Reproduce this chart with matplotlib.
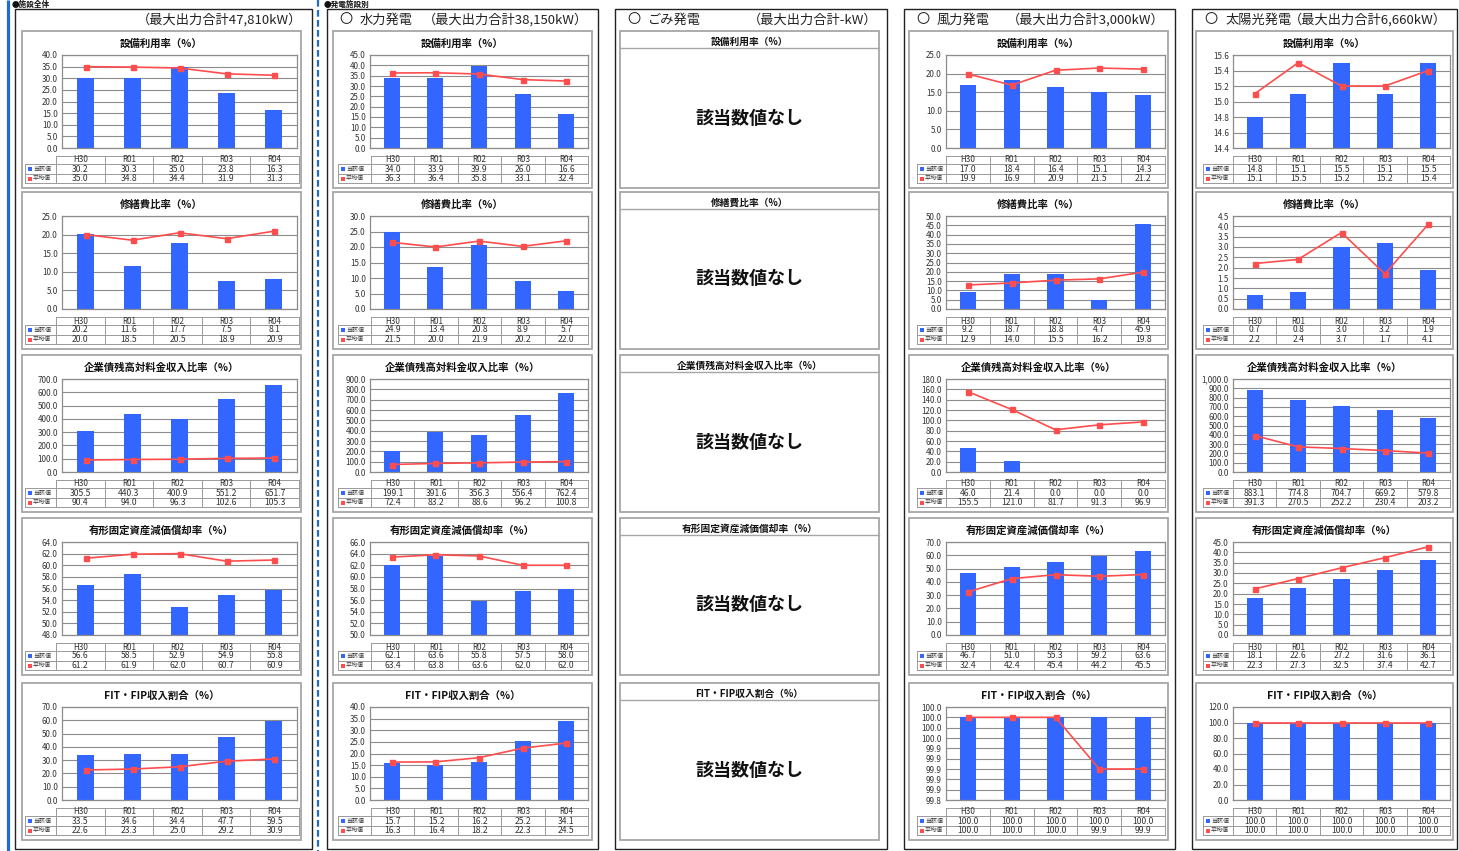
import matplotlib
matplotlib.use('Agg')
import matplotlib.pyplot as plt
from matplotlib.patches import Rectangle
import numpy as np

plt.rcParams['font.family'] = ['Noto Sans CJK JP', 'DejaVu Sans']

# ---------------- data ----------------
years = ['H30', 'R01', 'R02', 'R03', 'R04']
metric_titles = ['設備利用率（%）', '修繕費比率（%）', '企業債残高対料金収入比率（%）',
                 '有形固定資産減価償却率（%）', 'FIT・FIP収入割合（%）']
row_labels = ['当該値', '平均値']

facility_names = ['', '水力発電', 'ごみ発電', '風力発電', '太陽光発電']
facility_caps = ['（最大出力合計47,810kW）', '（最大出力合計38,150kW）', '（最大出力合計-kW）',
                 '（最大出力合計3,000kW）', '（最大出力合計6,660kW）']

total_vals = [[30.2, 30.3, 35.0, 23.8, 16.3],
              [20.2, 11.6, 17.7, 7.5, 8.1],
              [305.5, 440.3, 400.9, 551.2, 651.7],
              [56.6, 58.5, 52.9, 54.9, 55.8],
              [33.5, 34.6, 34.4, 47.7, 59.5]]
total_avgs = [[35.0, 34.8, 34.4, 31.9, 31.3],
              [20.0, 18.5, 20.5, 18.9, 20.9],
              [90.4, 94.0, 96.3, 102.6, 105.3],
              [61.2, 61.9, 62.0, 60.7, 60.9],
              [22.6, 23.3, 25.0, 29.2, 30.9]]

hydro_vals = [[34.0, 33.9, 39.9, 26.0, 16.6],
              [24.9, 13.4, 20.8, 8.9, 5.7],
              [199.1, 391.6, 356.3, 556.4, 762.4],
              [62.1, 63.6, 55.8, 57.5, 58.0],
              [15.7, 15.2, 16.2, 25.2, 34.1]]
hydro_avgs = [[36.3, 36.4, 35.8, 33.1, 32.4],
              [21.5, 20.0, 21.9, 20.2, 22.0],
              [72.4, 83.2, 88.6, 96.2, 100.8],
              [63.4, 63.8, 63.6, 62.0, 62.0],
              [16.3, 16.4, 18.2, 22.3, 24.5]]

wind_vals = [[17.0, 18.4, 16.4, 15.1, 14.3],
             [9.2, 18.7, 18.8, 4.7, 45.9],
             [46.0, 21.4, 0.0, 0.0, 0.0],
             [46.7, 51.0, 55.3, 59.2, 63.6],
             [100.0, 100.0, 100.0, 100.0, 100.0]]
wind_avgs = [[19.9, 16.9, 20.9, 21.5, 21.2],
             [12.9, 14.0, 15.5, 16.2, 19.8],
             [155.5, 121.0, 81.7, 91.3, 96.9],
             [32.4, 42.4, 45.4, 44.2, 45.5],
             [100.0, 100.0, 100.0, 99.9, 99.9]]

solar_vals = [[14.8, 15.1, 15.5, 15.1, 15.5],
              [0.7, 0.8, 3.0, 3.2, 1.9],
              [883.1, 774.8, 704.7, 669.2, 579.8],
              [18.1, 22.6, 27.2, 31.6, 36.1],
              [100.0, 100.0, 100.0, 100.0, 100.0]]
solar_avgs = [[15.1, 15.5, 15.2, 15.2, 15.4],
              [2.2, 2.4, 3.7, 1.7, 4.1],
              [391.3, 270.5, 252.2, 230.4, 203.2],
              [22.3, 27.3, 32.5, 37.4, 42.7],
              [100.0, 100.0, 100.0, 100.0, 100.0]]

no_data_text = '該当数値なし'
section_titles = ['●施設全体', '●発電施設別']

# ---------------- axis ranges (style) ----------------
total_axes = [(0, 40, 5), (0, 25, 5), (0, 700, 100), (48, 64, 2), (0, 70, 10)]
hydro_axes = [(0, 45, 5), (0, 30, 5), (0, 900, 100), (50, 66, 2), (0, 40, 5)]
wind_axes = [(0, 25, 5), (0, 50, 5), (0, 180, 20), (0, 70, 10), (99.84, 100.02, 0.02)]
solar_axes = [(14.4, 15.6, 0.2), (0, 4.5, 0.5), (0, 1000, 100), (0, 45, 5), (0, 120, 20)]

# ---------------- layout (pixels) ----------------
W, H = 1459, 851
fig = plt.figure(figsize=(W / 100, H / 100), dpi=100)
fig.patch.set_facecolor('white')

bg = fig.add_axes([0, 0, 1, 1], zorder=0)
bg.set_xlim(0, W)
bg.set_ylim(H, 0)
bg.axis('off')


def fig_rect(x0, y0, x1, y1):
    return [x0 / W, 1 - y1 / H, (x1 - x0) / W, (y1 - y0) / H]


BLUE = '#3366ff'
RED = '#ff4d4d'
GRID = '#8c8c8c'
PANEL = '#a6a6a6'
TXT = '#333333'

row_tops = [31, 192, 355, 518, 683]
PH = 157

columns = [
    dict(box=(15, 312), panel=(22, 301), plot=(62, 297), table=(56, 299), label=(25, 56),
         vals=total_vals, avgs=total_avgs, axes=total_axes),
    dict(box=(327, 598), panel=(333, 592), plot=(370, 588), table=(371, 588), label=(338, 371),
         vals=hydro_vals, avgs=hydro_avgs, axes=hydro_axes),
    dict(box=(615, 887), panel=(620, 879), vals=None),
    dict(box=(904, 1175), panel=(909, 1168), plot=(946, 1165), table=(946, 1165), label=(917, 946),
         vals=wind_vals, avgs=wind_avgs, axes=wind_axes),
    dict(box=(1192, 1457), panel=(1196, 1453), plot=(1233, 1450), table=(1233, 1450), label=(1203, 1233),
         vals=solar_vals, avgs=solar_avgs, axes=solar_axes),
]

# section separators and headings
bg.plot([8, 8], [0, H], color='#1f6fc4', lw=2.3, solid_capstyle='butt')
bg.plot([318, 318], [0, H], color='#1f6fc4', lw=1.6, dashes=(3, 1.5))
bg.text(12, 4, section_titles[0], fontsize=5.5, fontweight='bold', va='center', ha='left', color='#111')
bg.text(324, 4, section_titles[1], fontsize=5.5, fontweight='bold', va='center', ha='left', color='#111')

for ci, col in enumerate(columns):
    bx0, bx1 = col['box']
    bg.add_patch(Rectangle((bx0, 9), bx1 - bx0, 840, fill=False, edgecolor='#222222', lw=1.0))
    # header
    if facility_names[ci]:
        bg.text(bx0 + 12, 20, '〇', fontsize=9.5, va='center', ha='left', color='#222')
        bg.text(bx0 + 33, 20, facility_names[ci], fontsize=9.5, va='center', ha='left', color='#222')
    bg.text(bx1 - 10, 20, facility_caps[ci], fontsize=9.5, va='center', ha='right', color='#222')

    px0, px1 = col['panel']
    for ri, top in enumerate(row_tops):
        bg.add_patch(Rectangle((px0, top), px1 - px0, PH, fill=False, edgecolor=PANEL, lw=1.3))
        if col['vals'] is None:
            bg.plot([px0, px1], [top + 17, top + 17], color=PANEL, lw=1.0)
            bg.text((px0 + px1) / 2, top + 11, metric_titles[ri], fontsize=7, fontweight='bold',
                    ha='center', va='center', color='#111')
            bg.text((px0 + px1) / 2, top + 87, no_data_text, fontsize=13, fontweight='bold',
                    ha='center', va='center', color='#111')
            continue

        vals = col['vals'][ri]
        avgs = col['avgs'][ri]
        ymin, ymax, step = col['axes'][ri]

        bg.text((px0 + px1) / 2, top + 13, metric_titles[ri], fontsize=7.5, fontweight='bold',
                ha='center', va='center', color='#111')

        lx0, lx1 = col['plot']
        ax = fig.add_axes(fig_rect(lx0, top + 24, lx1, top + 117), zorder=2)
        x = np.arange(len(years))
        ax.bar(x, vals, width=0.37, color=BLUE, zorder=2)
        ax.plot(x, avgs, color=RED, lw=1.2, marker='s', ms=3.6, zorder=3, clip_on=False)
        ax.set_xlim(-0.5, 4.5)
        ax.set_ylim(ymin, ymax)
        ticks = np.arange(ymin, ymax + step / 2, step)
        ax.set_yticks(ticks)
        ax.set_yticklabels(['{:,.1f}'.format(t) for t in ticks], fontsize=5.8, color=TXT)
        ax.set_xticks([])
        ax.tick_params(axis='y', length=0, pad=3)
        ax.grid(axis='y', color=GRID, lw=0.8, zorder=0)
        ax.set_axisbelow(True)
        for s in ax.spines.values():
            s.set_color(GRID)
            s.set_linewidth(0.9)
        ax.set_facecolor('white')

        # data table
        tx0, tx1 = col['table']
        lb0, lb1 = col['label']
        cw = (tx1 - tx0) / len(years)
        y_h0, y_h1, y_r1, y_r2 = top + 125, top + 133, top + 143, top + 152
        lc = '#9a9a9a'
        bg.plot([tx0, tx1], [y_h0, y_h0], color=lc, lw=0.7)
        bg.plot([lb0, tx1], [y_h1, y_h1], color=lc, lw=0.7)
        bg.plot([lb0, tx1], [y_r1, y_r1], color=lc, lw=0.7)
        bg.plot([lb0, tx1], [y_r2, y_r2], color=lc, lw=0.7)
        bg.plot([lb0, lb0], [y_h1, y_r2], color=lc, lw=0.7)
        for k in range(len(years) + 1):
            xx = tx0 + k * cw
            bg.plot([xx, xx], [y_h0, y_r2], color=lc, lw=0.7)
        for k, yr in enumerate(years):
            cx = tx0 + (k + 0.5) * cw
            bg.text(cx, (y_h0 + y_h1) / 2, yr, fontsize=5.8, ha='center', va='center', color=TXT)
            bg.text(cx, (y_h1 + y_r1) / 2, '{:.1f}'.format(vals[k]), fontsize=6.2,
                    ha='center', va='center', color=TXT)
            bg.text(cx, (y_r1 + y_r2) / 2, '{:.1f}'.format(avgs[k]), fontsize=6.2,
                    ha='center', va='center', color=TXT)
        for j, (lab, c) in enumerate(zip(row_labels, [BLUE, RED])):
            yc = (y_h1 + y_r1) / 2 if j == 0 else (y_r1 + y_r2) / 2
            bg.add_patch(Rectangle((lb0 + 3, yc - 2), 4, 4, color=c, lw=0))
            bg.text(lb0 + 8, yc, lab, fontsize=4.3, ha='left', va='center', color=TXT)

fig.savefig('out.png', dpi=100, facecolor='white')
